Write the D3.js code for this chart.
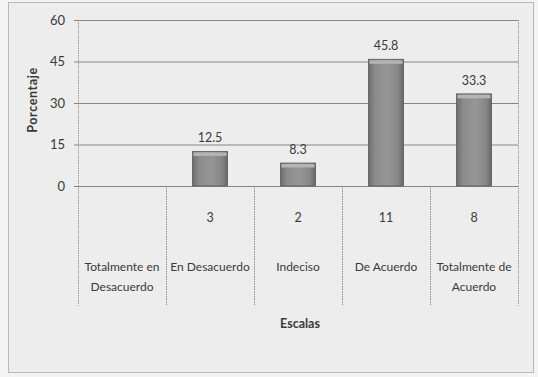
<!DOCTYPE html>
<html>
<head>
<meta charset="utf-8">
<script src="https://cdn.jsdelivr.net/npm/d3@7"></script>
<style>
  html, body { margin: 0; padding: 0; background: #ffffff; }
  svg { display: block; }
  text { font-family: Lato, "Open Sans", sans-serif; fill: #3a3a3a; }
</style>
</head>
<body>
<svg id="chart" width="538" height="377"></svg>
<script>
// Survey results by scale
const categories = ["Totalmente en Desacuerdo", "En Desacuerdo", "Indeciso", "De Acuerdo", "Totalmente de Acuerdo"];
const labelLines = [["Totalmente en", "Desacuerdo"], ["En Desacuerdo"], ["Indeciso"], ["De Acuerdo"], ["Totalmente de", "Acuerdo"]];
const percentages = [0, 12.5, 8.3, 45.8, 33.3];
const counts = ["", "3", "2", "11", "8"];
const yTicks = [0, 15, 30, 45, 60];

const svg = d3.select("#chart");
const W = 538, H = 377;

// outer chart frame
svg.append("rect").attr("x", 0).attr("y", 0).attr("width", W).attr("height", H).attr("fill", "#f3f3f3");
svg.append("rect").attr("x", 8.5).attr("y", 2.5).attr("width", 525).attr("height", 370)
  .attr("fill", "#ededed").attr("stroke", "#b8b8b8").attr("stroke-width", 1);

const plot = { left: 78, right: 518, top: 20, bottom: 186 };

const x = d3.scaleBand().domain(categories).range([plot.left, plot.right]).paddingInner(0).paddingOuter(0);
const y = d3.scaleLinear().domain([0, 60]).range([plot.bottom, plot.top]);

const defs = svg.append("defs");
const grad = defs.append("linearGradient").attr("id", "barGrad").attr("x1", 0).attr("x2", 1).attr("y1", 0).attr("y2", 0);
grad.append("stop").attr("offset", "0%").attr("stop-color", "#6e6e6e");
grad.append("stop").attr("offset", "20%").attr("stop-color", "#8c8c8c");
grad.append("stop").attr("offset", "55%").attr("stop-color", "#969696");
grad.append("stop").attr("offset", "85%").attr("stop-color", "#858585");
grad.append("stop").attr("offset", "100%").attr("stop-color", "#666666");

// horizontal gridlines
const yAxis = d3.axisLeft(y).tickValues(yTicks).tickSize(-(plot.right - plot.left) - 4).tickPadding(9).tickFormat(d3.format("d"));
const gy = svg.append("g").attr("transform", `translate(${plot.left - 4},0)`).call(yAxis);
gy.select(".domain").remove();
gy.selectAll(".tick line").attr("stroke", "#858585").attr("stroke-width", 1);
gy.selectAll(".tick text").attr("font-size", 13).attr("fill", "#4a4a4a").style("font-family", "Lato, sans-serif");

// left axis line and right plot border
svg.append("line").attr("x1", plot.left + 0.5).attr("x2", plot.left + 0.5).attr("y1", plot.top).attr("y2", 306)
  .attr("stroke", "#9a9a9a").attr("stroke-dasharray", "1.5,1");
svg.append("line").attr("x1", plot.right + 0.5).attr("x2", plot.right + 0.5).attr("y1", plot.top).attr("y2", 306)
  .attr("stroke", "#9a9a9a").attr("stroke-dasharray", "1.5,1");

// category separators running through the table
categories.slice(1).forEach(c => {
  svg.append("line").attr("x1", x(c) + 0.5).attr("x2", x(c) + 0.5).attr("y1", plot.bottom).attr("y2", 306)
    .attr("stroke", "#8a8a8a").attr("stroke-dasharray", "1.5,1");
});

// bars
const barW = 35;
const bars = svg.append("g");
categories.forEach((c, i) => {
  const v = percentages[i];
  if (v <= 0) return;
  const cx = x(c) + x.bandwidth() / 2;
  const top = y(v);
  bars.append("rect").attr("x", cx - barW / 2).attr("y", top).attr("width", barW).attr("height", y(0) - top)
    .attr("fill", "url(#barGrad)").attr("stroke", "#5a5a5a").attr("stroke-width", 0.8);
  bars.append("rect").attr("x", cx - barW / 2 + 1).attr("y", top + 1).attr("width", barW - 2).attr("height", 3.5)
    .attr("fill", "#b4b4b4");
  svg.append("text").attr("x", cx).attr("y", top - 9).attr("text-anchor", "middle")
    .attr("font-size", 12.5).text(d3.format(".1f")(v));
});

// data table: counts row and category labels
categories.forEach((c, i) => {
  const cx = x(c) + x.bandwidth() / 2;
  svg.append("text").attr("x", cx).attr("y", 222).attr("text-anchor", "middle").attr("font-size", 12.5).text(counts[i]);
  labelLines[i].forEach((ln, k) => {
    svg.append("text").attr("x", cx).attr("y", 271 + k * 20).attr("text-anchor", "middle")
      .attr("font-size", 12).text(ln);
  });
});

// axis titles
svg.append("text").attr("x", 300).attr("y", 328).attr("text-anchor", "middle").attr("font-size", 12.5)
  .attr("font-weight", "bold").text("Escalas");
svg.append("text").attr("transform", "translate(37,100) rotate(-90)").attr("text-anchor", "middle")
  .attr("font-size", 12.5).attr("font-weight", "bold").attr("letter-spacing", 0.6).text("Porcentaje");
</script>
</body>
</html>
